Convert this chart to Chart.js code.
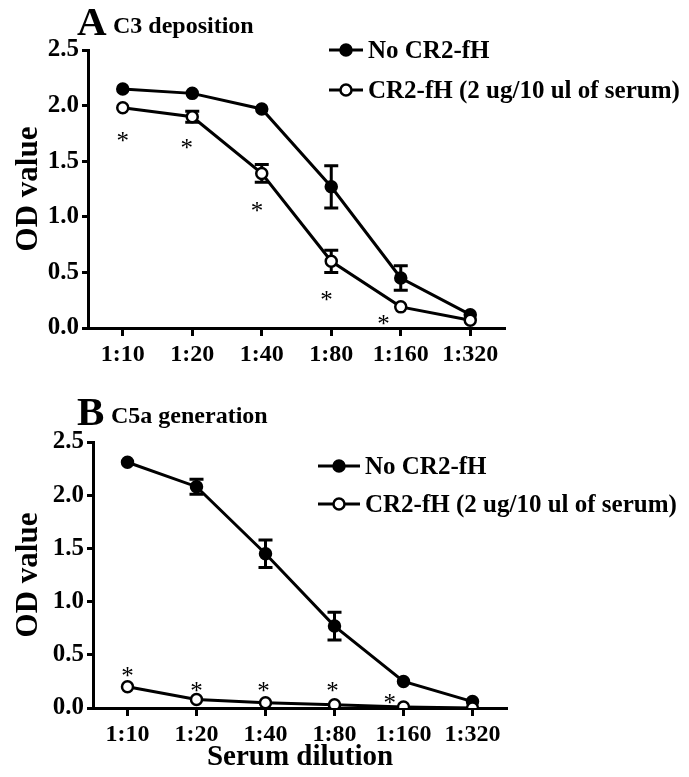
<!DOCTYPE html>
<html>
<head>
<meta charset="utf-8">
<script src="https://cdn.jsdelivr.net/npm/chart.js@4.4.0/dist/chart.umd.min.js"></script>
<style>
  html, body { margin: 0; padding: 0; background: #fff; }
  #wrapA { position: absolute; left: 0; top: 0; width: 689px; height: 380px; }
  #wrapB { position: absolute; left: 0; top: 380px; width: 689px; height: 397px; }
</style>
</head>
<body>
<div id="wrapA"><canvas id="chartA" width="689" height="380"></canvas></div>
<div id="wrapB"><canvas id="chartB" width="689" height="397"></canvas></div>
<script>
const dilutions = ["1:10", "1:20", "1:40", "1:80", "1:160", "1:320"];
const yTicks = [0, 0.5, 1.0, 1.5, 2.0, 2.5];
const seriesNames = ["No CR2-fH", "CR2-fH (2 ug/10 ul of serum)"];

// panel A - C3 deposition
const c3Control = [2.15, 2.11, 1.97, 1.27, 0.45, 0.12];
const c3ControlErr = [0, 0, 0, 0.19, 0.11, 0];
const c3Treated = [1.98, 1.90, 1.39, 0.60, 0.19, 0.07];
const c3TreatedErr = [0, 0.05, 0.08, 0.10, 0, 0];
const c3StarX = [0, 0.92, 1.93, 2.93, 3.75];
const c3StarY = [1.74, 1.67, 1.11, 0.31, 0.09];

// panel B - C5a generation
const c5aControl = [2.31, 2.08, 1.45, 0.77, 0.25, 0.06];
const c5aControlErr = [0, 0.07, 0.13, 0.13, 0, 0];
const c5aTreated = [0.20, 0.08, 0.05, 0.03, 0.01, 0.00];
const c5aTreatedErr = [0, 0, 0, 0, 0, 0];
const c5aStarX = [0, 1, 1.97, 2.97, 3.8];
const c5aStarY = [0.36, 0.22, 0.22, 0.22, 0.10];

const SERIF = "'Liberation Serif', 'Times New Roman', serif";

// error bars behind the lines and points
const errBars = {
  id: 'errBars',
  beforeDatasetsDraw(chart) {
    const ctx = chart.ctx;
    const y = chart.scales.y;
    ctx.save();
    ctx.strokeStyle = '#000';
    ctx.lineWidth = 3;
    chart.data.datasets.forEach((ds, di) => {
      const meta = chart.getDatasetMeta(di);
      ds.data.forEach((v, i) => {
        const e = ds.errors[i];
        if (!e) return;
        const px = meta.data[i].x;
        const top = y.getPixelForValue(v + e);
        const bot = y.getPixelForValue(v - e);
        ctx.beginPath();
        ctx.moveTo(px, top); ctx.lineTo(px, bot);
        ctx.moveTo(px - 7, top); ctx.lineTo(px + 7, top);
        ctx.moveTo(px - 7, bot); ctx.lineTo(px + 7, bot);
        ctx.stroke();
      });
    });
    ctx.restore();
  }
};

// significance asterisks
const stars = {
  id: 'stars',
  afterDatasetsDraw(chart, args, opts) {
    const ctx = chart.ctx;
    const xs = chart.scales.x, ys = chart.scales.y;
    ctx.save();
    ctx.fillStyle = '#000';
    ctx.font = "25px " + SERIF;
    ctx.textAlign = 'center';
    ctx.textBaseline = 'alphabetic';
    opts.xs.forEach((xv, i) => {
      ctx.fillText('*', xs.getPixelForValue(xv), ys.getPixelForValue(opts.ys[i]) + 14);
    });
    ctx.restore();
  }
};

// legend inside plot + panel heading
const keyBox = {
  id: 'keyBox',
  afterDraw(chart, args, opts) {
    const ctx = chart.ctx;
    ctx.save();
    ctx.fillStyle = '#000';
    ctx.textBaseline = 'alphabetic';
    ctx.font = "bold 41px " + SERIF;
    ctx.fillText(opts.letter, opts.letterX, opts.headY + 2);
    ctx.font = "bold 24px " + SERIF;
    ctx.fillText(opts.heading, opts.headX, opts.headY);

    ctx.textBaseline = 'middle';
    ctx.font = "bold 25px " + SERIF;
    chart.data.datasets.forEach((ds, i) => {
      const ly = opts.y + i * opts.gap;
      const x0 = opts.x, x1 = opts.x + opts.len;
      ctx.strokeStyle = '#000';
      ctx.lineWidth = 3;
      ctx.beginPath();
      ctx.moveTo(x0, ly); ctx.lineTo(x1, ly);
      ctx.stroke();
      ctx.beginPath();
      ctx.arc((x0 + x1) / 2, ly, 5.5, 0, Math.PI * 2);
      ctx.fillStyle = ds.pointBackgroundColor;
      ctx.fill();
      ctx.lineWidth = 2.5;
      ctx.stroke();
      ctx.fillStyle = '#000';
      ctx.fillText(ds.label, x1 + 5, ly + 2);
    });
    ctx.restore();
  }
};

function makeChart(id, control, controlErr, treated, treatedErr, cfg) {
  const ctx = document.getElementById(id).getContext('2d');
  return new Chart(ctx, {
    type: 'line',
    data: {
      labels: dilutions,
      datasets: [{
        label: seriesNames[0],
        data: control,
        errors: controlErr,
        borderColor: '#000',
        borderWidth: 3,
        pointRadius: 5.5,
        pointBorderWidth: 2.5,
        pointBackgroundColor: '#000',
        pointBorderColor: '#000',
        order: 1
      }, {
        label: seriesNames[1],
        data: treated,
        errors: treatedErr,
        borderColor: '#000',
        borderWidth: 3,
        pointRadius: 5.5,
        pointBorderWidth: 2.5,
        pointBackgroundColor: '#fff',
        pointBorderColor: '#000',
        order: 0
      }]
    },
    options: {
      responsive: false,
      animation: false,
      layout: { padding: { top: cfg.top, right: cfg.right, left: 0, bottom: 0 } },
      plugins: {
        legend: { display: false },
        tooltip: { enabled: false },
        stars: { xs: cfg.starX, ys: cfg.starY },
        keyBox: cfg.key
      },
      scales: {
        x: {
          type: 'category',
          offset: true,
          afterFit: s => { s.height = cfg.xHeight; },
          grid: { drawOnChartArea: false, tickLength: 8, tickWidth: 3, tickColor: '#000' },
          border: { color: '#000', width: 3 },
          ticks: { color: '#000', padding: 4, font: { family: SERIF, size: 24, weight: 'bold' } },
          title: {
            display: cfg.xTitle,
            text: 'Serum dilution',
            color: '#000',
            padding: { top: 0, bottom: 2 },
            font: { family: SERIF, size: 29, weight: 'bold' }
          }
        },
        y: {
          min: 0,
          max: 2.5,
          afterFit: s => { s.width = cfg.yWidth; },
          afterBuildTicks: s => { s.ticks = yTicks.map(v => ({ value: v })); },
          grid: { drawOnChartArea: false, tickLength: 6, tickWidth: 3, tickColor: '#000' },
          border: { color: '#000', width: 3 },
          ticks: {
            color: '#000',
            padding: 3,
            font: { family: SERIF, size: 25, weight: 'bold' },
            callback: v => Number(v).toFixed(1)
          },
          title: {
            display: true,
            text: 'OD value',
            color: '#000',
            padding: { top: 10, bottom: 0 },
            font: { family: SERIF, size: 31, weight: 'bold' }
          }
        }
      }
    },
    plugins: [errBars, stars, keyBox]
  });
}

makeChart('chartA', c3Control, c3ControlErr, c3Treated, c3TreatedErr, {
  top: 50, right: 184, xHeight: 52, yWidth: 88, xTitle: false,
  starX: c3StarX, starY: c3StarY,
  key: { letter: 'A', letterX: 77, heading: 'C3 deposition', headX: 113, headY: 33,
         x: 329, y: 50, gap: 40, len: 34 }
});

makeChart('chartB', c5aControl, c5aControlErr, c5aTreated, c5aTreatedErr, {
  top: 62, right: 182, xHeight: 69, yWidth: 93, xTitle: true,
  starX: c5aStarX, starY: c5aStarY,
  key: { letter: 'B', letterX: 77, heading: 'C5a generation', headX: 111, headY: 43,
         x: 318, y: 86, gap: 38, len: 42 }
});
</script>
</body>
</html>
